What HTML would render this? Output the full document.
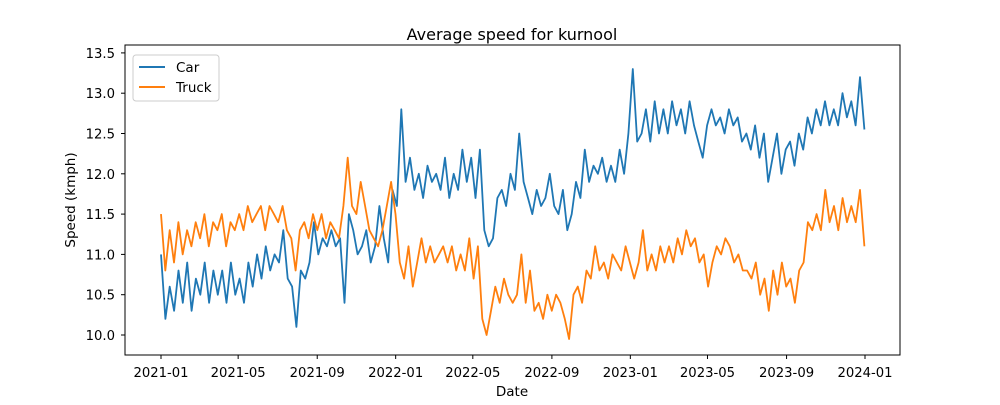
<!DOCTYPE html>
<html><head><meta charset="utf-8"><style>
body{margin:0;background:#fff;font-family:"Liberation Sans","DejaVu Sans",sans-serif}
svg text{font-family:"DejaVu Sans","Liberation Sans",sans-serif}
</style></head><body>
<svg id="chart" width="1000" height="400" xmlns="http://www.w3.org/2000/svg">
<rect width="1000" height="400" fill="#fff"/>
<text x="512" y="40" font-size="16" text-anchor="middle">Average speed for kurnool</text>
<g id="grid"></g>
<g id="lines"></g>
<rect x="125" y="45" width="775" height="310" fill="none" stroke="#000" stroke-width="1"/>
<text x="512" y="396" font-size="13.5" text-anchor="middle">Date</text>
<text x="75" y="200" font-size="13.5" text-anchor="middle" transform="rotate(-90 75 200)">Speed (kmph)</text>
<g>
<rect x="133" y="55" width="86" height="46" rx="3" fill="#fff" stroke="#ccc"/>
<line x1="139" y1="67" x2="165" y2="67" stroke="#1f77b4" stroke-width="2"/>
<text x="176" y="72" font-size="13.5">Car</text>
<line x1="139" y1="87" x2="165" y2="87" stroke="#ff7f0e" stroke-width="2"/>
<text x="176" y="92" font-size="13.5">Truck</text>
</g>
</svg>
<script>
const xTickLabels=["2021-01","2021-05","2021-09","2022-01","2022-05","2022-09","2023-01","2023-05","2023-09","2024-01"];
const yTickLabels=[10.0,10.5,11.0,11.5,12.0,12.5,13.0,13.5];
const startDate="2021-01-01";
const endDate="2023-12-31";
const carValues=[11.0,10.2,10.6,10.3,10.8,10.4,10.9,10.3,10.7,10.5,10.9,10.4,10.8,10.5,10.8,10.4,10.9,10.5,10.7,10.4,10.9,10.6,11.0,10.7,11.1,10.8,11.0,10.9,11.3,10.7,10.6,10.1,10.8,10.7,10.9,11.4,11.0,11.2,11.1,11.3,11.1,11.2,10.4,11.5,11.3,11.0,11.1,11.3,10.9,11.1,11.6,11.2,10.9,11.8,11.6,12.8,11.9,12.2,11.8,12.0,11.7,12.1,11.9,12.0,11.8,12.2,11.7,12.0,11.8,12.3,11.9,12.2,11.7,12.3,11.3,11.1,11.2,11.7,11.8,11.6,12.0,11.8,12.5,11.9,11.7,11.5,11.8,11.6,11.7,12.0,11.6,11.5,11.8,11.3,11.5,11.9,11.7,12.3,11.9,12.1,12.0,12.2,11.9,12.1,11.9,12.3,12.0,12.5,13.3,12.4,12.5,12.8,12.4,12.9,12.5,12.8,12.5,12.9,12.6,12.8,12.5,12.9,12.6,12.4,12.2,12.6,12.8,12.6,12.7,12.5,12.8,12.6,12.7,12.4,12.5,12.3,12.6,12.2,12.5,11.9,12.2,12.5,12.0,12.3,12.4,12.1,12.5,12.3,12.7,12.5,12.8,12.6,12.9,12.6,12.8,12.6,13.0,12.7,12.9,12.6,13.2,12.55];
const truckValues=[11.5,10.8,11.3,10.9,11.4,11.0,11.3,11.1,11.4,11.2,11.5,11.1,11.4,11.3,11.5,11.1,11.4,11.3,11.5,11.3,11.6,11.4,11.5,11.6,11.3,11.6,11.5,11.4,11.6,11.3,11.2,10.8,11.3,11.4,11.2,11.5,11.3,11.5,11.2,11.4,11.3,11.2,11.6,12.2,11.6,11.5,11.9,11.6,11.3,11.2,11.1,11.3,11.6,11.9,11.5,10.9,10.7,11.1,10.6,10.9,11.2,10.9,11.1,10.9,11.0,11.1,10.9,11.1,10.8,11.0,10.8,11.2,10.7,11.1,10.2,10.0,10.3,10.6,10.4,10.7,10.5,10.4,10.5,11.0,10.4,10.8,10.3,10.4,10.2,10.5,10.3,10.5,10.4,10.2,9.95,10.5,10.6,10.4,10.8,10.7,11.1,10.8,10.9,10.7,11.0,10.9,10.8,11.1,10.9,10.7,10.9,11.3,10.8,11.0,10.8,11.1,10.9,11.1,10.9,11.2,11.0,11.3,11.1,11.2,10.9,11.0,10.6,10.9,11.1,11.0,11.2,11.1,10.9,11.0,10.8,10.8,10.7,10.9,10.5,10.7,10.3,10.8,10.5,10.9,10.6,10.7,10.4,10.8,10.9,11.4,11.3,11.5,11.3,11.8,11.4,11.6,11.3,11.7,11.4,11.6,11.4,11.8,11.1];

const X0=161,PXPERDAY=704/1095,Y0=335,PXPERUNIT=80.6;
const day0=Date.parse(startDate),dayN=Date.parse(endDate);
function xDate(ms){return X0+(ms-day0)/86400000*PXPERDAY;}
function yScale(v){return Y0-(v-10)*PXPERUNIT;}
const NS="http://www.w3.org/2000/svg";
const grid=document.getElementById('grid'),lines=document.getElementById('lines');
function mk(tag,attrs,parent){const e=document.createElementNS(NS,tag);for(const k in attrs)e.setAttribute(k,attrs[k]);parent.appendChild(e);return e;}
xTickLabels.forEach(l=>{
  const x=xDate(Date.parse(l+"-01"));
  const t=mk('line',{x1:x,x2:x,y1:355,y2:359,stroke:'#000'},grid);
  
  
  const tx=mk('text',{x:x,y:377,'font-size':'13.2','text-anchor':'middle'},grid);
  tx.textContent=l;
  
  
});
yTickLabels.forEach(v=>{
  const y=yScale(v);
  const t=mk('line',{x1:121,x2:125,y1:y,y2:y,stroke:'#000'},grid);
  
  
  const tx=mk('text',{x:115,y:y+5,'font-size':'13.2','text-anchor':'end'},grid);
  tx.textContent=v.toFixed(1);
  
  
});
function series(vals,color,name){
  const n=vals.length;
  const pts=vals.map((v,i)=>{const ms=day0+(dayN-day0)*i/(n-1);return xDate(ms).toFixed(1)+','+yScale(v).toFixed(1);}).join(' ');
  const p=mk('polyline',{points:pts,fill:'none',stroke:color,'stroke-width':'1.8','stroke-linejoin':'round'},lines);
  
  
}
series(carValues,'#1f77b4','car-line');
series(truckValues,'#ff7f0e','truck-line');
</script>
</body></html>
